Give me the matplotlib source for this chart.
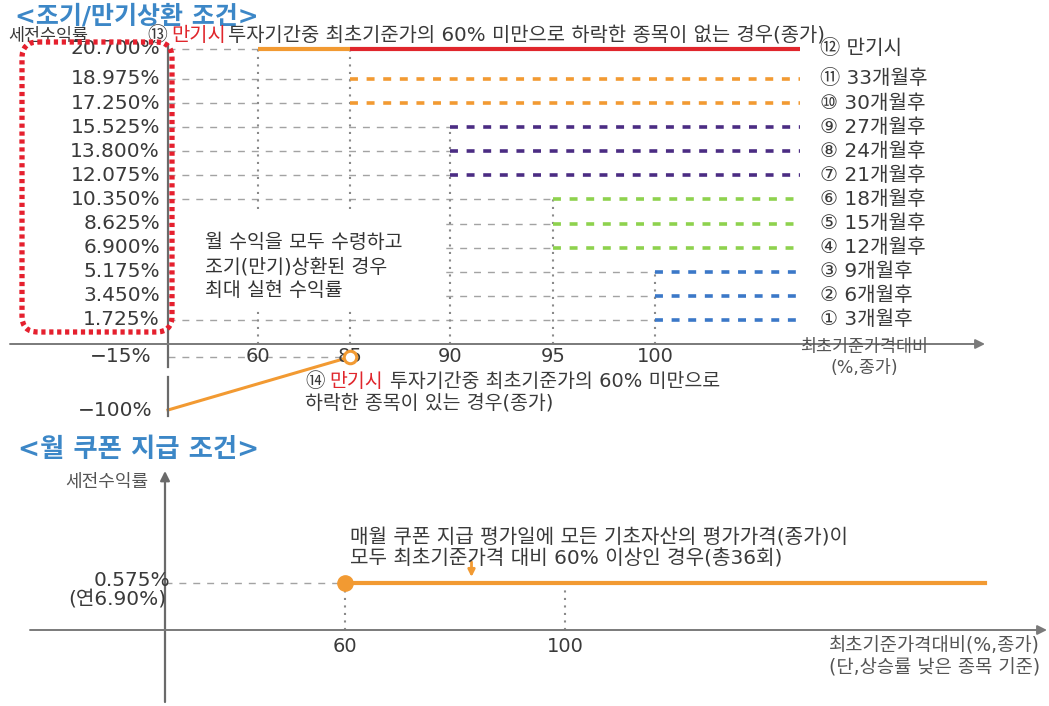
import numpy as np
import matplotlib
matplotlib.use('Agg')
import matplotlib.pyplot as plt
from matplotlib.patches import FancyBboxPatch, Rectangle
from matplotlib.transforms import Affine2D

plt.rcParams['font.family'] = ['DejaVu Sans', 'Noto Sans CJK KR']

# ---------------- data ----------------
# early/maturity redemption conditions
returns = [1.725, 3.450, 5.175, 6.900, 8.625, 10.350, 12.075, 13.800, 15.525, 17.250, 18.975, 20.700]
barriers = [100, 100, 100, 95, 95, 95, 90, 90, 90, 85, 85, 60]
row_labels = ['① 3개월후', '② 6개월후', '③ 9개월후', '④ 12개월후', '⑤ 15개월후', '⑥ 18개월후',
              '⑦ 21개월후', '⑧ 24개월후', '⑨ 27개월후', '⑩ 30개월후', '⑪ 33개월후', '⑫ 만기시']
maturity_split = 85          # maturity row: orange 60-85, red beyond 85
x_ticks = [60, 85, 90, 95, 100]
v_levels = [60, 85, 90, 95, 100]
v_tops = [20.700, 20.700, 15.525, 10.350, 5.175]
loss_levels = [0, 85]
loss_returns = [-100, -15]
neg_ticks = [-15, -100]
neg_tick_labels = ['−15%', '−100%']

# monthly coupon conditions
coupon_barrier = 60
coupon_rate = 0.575
coupon_ticks = [60, 100]

# ---------------- styling / layout ----------------
W, H = 1049, 706
ORANGE = '#f29a32'
RED = '#e0262c'
PURPLE = '#4b2c83'
GREEN = '#8ed24e'
BLUE = '#3b78c8'
GDASH = '#a3a3a3'
AXIS = '#7a7a7a'
TXT = '#3a3a3a'
TITLE = '#3c87c7'
group_color = {100: BLUE, 95: GREEN, 90: PURPLE, 85: ORANGE}

fig = plt.figure(figsize=(W / 100, H / 100), dpi=100)
fig.patch.set_facecolor('white')
pxT = Affine2D().scale(1, -1).translate(0, H)


def T(x, y, s, **kw):
    kw.setdefault('color', TXT)
    return fig.text(x / W, 1 - y / H, s, **kw)


def pw(xk, yk):
    xk = np.asarray(xk, float)
    yk = np.asarray(yk, float)
    s0 = (yk[1] - yk[0]) / (xk[1] - xk[0])
    s1 = (yk[-1] - yk[-2]) / (xk[-1] - xk[-2])

    def f(v):
        v = np.asarray(v, float)
        out = np.interp(v, xk, yk)
        out = np.where(v < xk[0], yk[0] + (v - xk[0]) * s0, out)
        out = np.where(v > xk[-1], yk[-1] + (v - xk[-1]) * s1, out)
        return out
    return f


def chain(x, y, parts, size):
    fig.canvas.draw()
    r = fig.canvas.get_renderer()
    cx = x
    for s, c, gap in parts:
        cx += gap
        t = T(cx, y, s, color=c, fontsize=size, va='baseline', ha='left')
        bb = t.get_window_extent(r)
        cx = bb.x1


# ================= top chart =================
TOP_H = 430
ax1 = fig.add_axes([0, (H - TOP_H) / H, 1, TOP_H / H])
ax1.axis('off')
XK1 = [0, 60, 85, 90, 95, 100, 130]
XP1 = [168, 258, 350, 450, 553, 655, 800]
YK1 = [-100, -15, 0, 18.975, 20.7]
YP1 = [410, 357, 344, 79, 49]
fx1, ix1 = pw(XK1, XP1), pw(XP1, XK1)
fy1 = pw(YK1, -np.array(YP1, float))
iy1 = pw(-np.array(YP1, float), YK1)
ax1.set_xscale('function', functions=(fx1, ix1))
ax1.set_yscale('function', functions=(fy1, iy1))
X_END1 = 130

for r, b in zip(returns, barriers):
    ax1.plot([0, b], [r, r], color=GDASH, lw=1.0, ls=(0, (5, 5)), zorder=1, clip_on=False)
    if b == 60:
        ax1.plot([b, maturity_split], [r, r], color=ORANGE, lw=3, solid_capstyle='butt', zorder=3, clip_on=False)
        ax1.plot([maturity_split, X_END1], [r, r], color=RED, lw=3, solid_capstyle='butt', zorder=3, clip_on=False)
    else:
        ax1.plot([b, X_END1], [r, r], color=group_color[b], lw=2.6, ls=(0, (2.2, 2.4)), zorder=3, clip_on=False)

for lv, tp in zip(v_levels, v_tops):
    ax1.plot([lv, lv], [0, tp], color='#8a8a8a', lw=1.5, ls=(0, (1, 2.6)), zorder=2, clip_on=False)

# loss line
ax1.plot([0, loss_levels[1]], [loss_returns[1]] * 2, color=GDASH, lw=1.0, ls=(0, (5, 5)), zorder=1, clip_on=False)
ax1.plot(loss_levels, loss_returns, color=ORANGE, lw=2.2, zorder=3, clip_on=False)
ax1.plot([loss_levels[1]], [loss_returns[1]], 'o', ms=9, mfc='white', mec=ORANGE, mew=2.2, zorder=4, clip_on=False)

# white box covering lines behind note
ax1.add_patch(Rectangle((171, 212), 271, 98, transform=pxT, fc='white', ec='none', zorder=5, clip_on=False))
for yy, s in zip([243, 267, 290], ['월 수익을 모두 수령하고', '조기(만기)상환된 경우', '최대 실현 수익률']):
    T(205, yy, s, fontsize=14, va='center', ha='left', zorder=6, color='#333333')

# axes
ax1.plot([0, 0], [float(iy1(-45)), -31], color='#6a6a6a', lw=1.6, zorder=4, clip_on=False)
ax1.plot([0, 0], [-47, -110], color='#6a6a6a', lw=1.6, zorder=4, clip_on=False)
ax1.annotate('', xy=(float(ix1(985)), 0), xytext=(float(ix1(10)), 0),
             arrowprops=dict(arrowstyle='-|>', color=AXIS, lw=1.4, mutation_scale=14, shrinkA=0, shrinkB=0),
             zorder=4, annotation_clip=False)

for xt in x_ticks:
    ax1.annotate(str(xt), xy=(xt, 0), xytext=(0, -2.5), textcoords='offset points',
                 ha='center', va='top', fontsize=14, color=TXT, annotation_clip=False)

for r in returns:
    ax1.text(float(ix1(160)), r, f'{r:.3f}%', ha='right', va='center', fontsize=14.5, color=TXT, clip_on=False)
for v, s in zip(neg_ticks, neg_tick_labels):
    ax1.text(float(ix1(152)), v, s, ha='right', va='center', fontsize=14.5, color=TXT, clip_on=False)
for r, s in zip(returns, row_labels):
    ax1.text(float(ix1(820)), r, s, ha='left', va='center', fontsize=14.5, color=TXT, clip_on=False)

ax1.set_xlim(float(ix1(0)), float(ix1(W)))
ax1.set_ylim(float(iy1(-TOP_H)), float(iy1(0)))

# red dotted rounded box
box = FancyBboxPatch((22, 42), 150, 290, boxstyle='round,pad=0,rounding_size=16', transform=pxT,
                     fc='none', ec='#e5202e', lw=3.8, ls=(0, (0.8, 0.7)), zorder=7)
fig.add_artist(box)

T(15, 24, '<조기/만기상환 조건>', color=TITLE, fontsize=18, fontweight='bold', va='baseline', ha='left')
T(8, 36, '세전수익률', fontsize=12.5, va='center', ha='left')
chain(147, 41, [('⑬', TXT, 0), ('만기시', RED, 4), ('투자기간중 최초기준가의 60% 미만으로 하락한 종목이 없는 경우(종가)', TXT, 2)], 14.3)
chain(305, 387, [('⑭', TXT, 0), ('만기시', RED, 5), ('투자기간중 최초기준가의 60% 미만으로', TXT, 7)], 14)
T(305, 403, '하락한 종목이 있는 경우(종가)', fontsize=14, va='center', ha='left')
T(800, 347, '최초기준가격대비', fontsize=12.5, va='center', ha='left', color='#555555')
T(830, 368, '(%,종가)', fontsize=12.5, va='center', ha='left', color='#555555')

# ================= bottom chart =================
BOT_H = H - TOP_H
ax2 = fig.add_axes([0, 0, 1, BOT_H / H])
ax2.axis('off')
XK2 = [0, 60, 100, 160]
XP2 = [165, 345, 565, 985]
YK2 = [0, 0.575]
YP2 = [630, 583]
fx2, ix2 = pw(XK2, XP2), pw(XP2, XK2)
fy2 = pw(YK2, -np.array(YP2, float))
iy2 = pw(-np.array(YP2, float), YK2)
ax2.set_xscale('function', functions=(fx2, ix2))
ax2.set_yscale('function', functions=(fy2, iy2))
X_END2 = 160

ax2.annotate('', xy=(0, float(iy2(-471))), xytext=(0, float(iy2(-702))),
             arrowprops=dict(arrowstyle='-|>', color='#6a6a6a', lw=1.6, mutation_scale=14, shrinkA=0, shrinkB=0),
             annotation_clip=False)
ax2.annotate('', xy=(float(ix2(1047)), 0), xytext=(float(ix2(30)), 0),
             arrowprops=dict(arrowstyle='-|>', color=AXIS, lw=1.4, mutation_scale=14, shrinkA=0, shrinkB=0),
             annotation_clip=False)

ax2.plot([0, coupon_barrier], [coupon_rate] * 2, color=GDASH, lw=1.0, ls=(0, (5, 5)), zorder=1, clip_on=False)
ax2.plot([coupon_barrier, coupon_barrier], [0, coupon_rate], color='#8a8a8a', lw=1.5, ls=(0, (1, 2.6)), clip_on=False)
ax2.plot([coupon_ticks[1], coupon_ticks[1]], [0, 0.5], color='#8a8a8a', lw=1.5, ls=(0, (1, 2.6)), clip_on=False)
ax2.plot([coupon_barrier, X_END2], [coupon_rate] * 2, color=ORANGE, lw=3, zorder=3, clip_on=False)
ax2.plot([coupon_barrier], [coupon_rate], 'o', ms=11, color=ORANGE, zorder=4, clip_on=False)
ax2.annotate('', xy=(83, float(iy2(-577))), xytext=(83, float(iy2(-562))),
             arrowprops=dict(arrowstyle='-|>', color=ORANGE, lw=2, mutation_scale=10, shrinkA=0, shrinkB=0),
             annotation_clip=False)

for xt in coupon_ticks:
    ax2.annotate(str(xt), xy=(xt, 0), xytext=(0, -5), textcoords='offset points',
                 ha='center', va='top', fontsize=14, color=TXT, annotation_clip=False)

ax2.set_xlim(float(ix2(0)), float(ix2(W)))
ax2.set_ylim(float(iy2(-H)), float(iy2(-TOP_H)))

T(18, 450, '<월 쿠폰 지급 조건>', color=TITLE, fontsize=19, fontweight='bold', va='center', ha='left')
T(148, 482, '세전수익률', fontsize=13, va='center', ha='right', color='#555555')
T(170, 580, f'{coupon_rate:.3f}%', fontsize=14.5, va='center', ha='right')
T(166, 599, '(연6.90%)', fontsize=14.5, va='center', ha='right')
T(350, 538, '매월 쿠폰 지급 평가일에 모든 기초자산의 평가가격(종가)이', fontsize=14.5, va='center', ha='left')
T(350, 559, '모두 최초기준가격 대비 60% 이상인 경우(총36회)', fontsize=14.5, va='center', ha='left')
T(1040, 646, '최초기준가격대비(%,종가)', fontsize=13.5, va='center', ha='right', color='#555555')
T(1040, 668, '(단,상승률 낮은 종목 기준)', fontsize=13.5, va='center', ha='right', color='#555555')

fig.savefig('out.png', dpi=100, facecolor='white')
